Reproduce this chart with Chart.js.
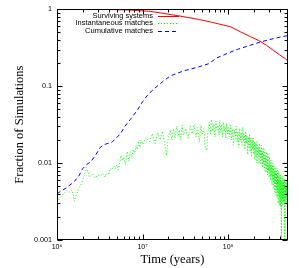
<!DOCTYPE html>
<html><head><meta charset="utf-8">
<script src="https://cdn.jsdelivr.net/npm/chart.js@4"></script>
<style>html,body{margin:0;padding:0;background:#fff;}#wrap{width:299px;height:268px;}</style>
</head><body><div id="wrap"><canvas id="c" width="299" height="268"></canvas></div>
<script>
// ---- tick values and labels ----
const xMajorTicks = [1e6, 1e7, 1e8];
const xTickLabels = ['10\u2076', '10\u2077', '10\u2078'];
const xMinorTicks = [2e6,3e6,4e6,5e6,6e6,7e6,8e6,9e6,2e7,3e7,4e7,5e7,6e7,7e7,8e7,9e7,2e8,3e8,4e8];
const yMajorTicks = [0.001, 0.01, 0.1, 1];
const yTickLabels = ['0.001', '0.01', '0.1', '1'];
const yMinorTicks = [0.002,0.003,0.004,0.005,0.006,0.007,0.008,0.009,0.02,0.03,0.04,0.05,0.06,0.07,0.08,0.09,0.2,0.3,0.4,0.5,0.6,0.7,0.8,0.9];
const seriesNames = ['Surviving systems', 'Instantaneous matches', 'Cumulative matches'];
const xTitle = 'Time (years)';
const yTitle = 'Fraction of Simulations';

// ---- series (time in Myr, fraction) ----
const survTime = [1, 2, 4, 7, 12.3, 16, 27.6, 45, 62, 80, 106, 139, 183, 227, 280, 341, 400, 460, 500, 500];
const survFrac = [1.0, 0.999, 0.995, 0.98, 0.94, 0.90, 0.815, 0.74, 0.685, 0.64, 0.595, 0.51, 0.44, 0.393, 0.34, 0.29, 0.255, 0.23, 0.212, 0.0005];

const cumTime = [1.0, 1.3, 1.6, 1.8, 2.0, 2.2, 2.5, 2.8, 3.2, 3.6, 4.4, 5.5, 6.2, 7.2, 8.7, 10, 11.7, 14, 17.6, 21, 30, 45, 59, 74, 100, 128, 180, 240, 350, 500];
const cumFrac = [0.0040, 0.0048, 0.0058, 0.0068, 0.0085, 0.0095, 0.0105, 0.0125, 0.016, 0.0175, 0.0187, 0.024, 0.030, 0.037, 0.049, 0.063, 0.079, 0.095, 0.117, 0.136, 0.158, 0.178, 0.196, 0.234, 0.27, 0.301, 0.34, 0.377, 0.42, 0.456];

const instTime = [
 1.0,1.1,1.2,1.3,1.4,1.5,1.6,1.7,1.8,1.9,2.0,
 2.2,2.4,2.6,2.8,3.0,3.2,3.4,3.6,3.8,4.0,4.2,4.4,4.6,4.8,5.0,5.2,5.4,5.6,5.8,6.0,6.3,6.6,6.9,7.2,7.5,7.8,8.1,8.4,8.7,9.0,9.3,9.6,10,
 11,12,13,14,15,16,17,18,19,20,21,22,23,24,25,26,27,28,29,30,
 32,34,36,38,40,42,44,46,48,50,52,54,56,58,60,62,64,66,68,70,72,74,76,78,80,82,84,86,88,90,92,94,96,98,100,
 103,106,109,112,115,118,121,124,127,130,133,136,139,142,145,148,151,154,157,160,163,166,169,172,175,178,181,184,187,190,193,196,199,
 202,205,208,211,214,217,220,223,226,229,232,235,238,241,244,247,250,253,256,259,262,265,268,271,274,277,280,283,286,289,292,295,298,
 301,304,307,310,313,316,319,322,325,328,331,334,337,340,343,346,349,352,355,358,361,364,367,370,373,376,379,382,385,388,391,394,397,
 400,403,406,409,412,415,418,421,424,427,430,433,436,439,442,445,448,451,454,457,460,463,466,469,472,475,478,481,484,487,490,493,496,499
];
const instFrac = [
 0.0031,0.0036,0.0040,0.0044,0.0042,0.0045,0.0032,0.0040,0.0046,0.0052,0.0060,
 0.0088,0.0066,0.0072,0.0064,0.0070,0.0068,0.0074,0.0066,0.0074,0.0070,0.0085,0.0082,0.0092,0.0085,0.0095,0.0082,0.0100,0.0125,0.0108,0.0120,0.0096,0.0142,0.0106,0.0140,0.0120,0.0150,0.0135,0.0170,0.0150,0.0192,0.0160,0.0200,0.0175,0.0215,
 0.019,0.024,0.018,0.025,0.020,0.026,0.019,0.0125,0.022,0.027,0.020,0.028,0.021,0.030,0.022,0.027,0.020,0.031,0.023,0.028,
 0.021,0.030,0.024,0.032,0.022,0.029,0.019,0.031,0.024,0.028,0.016,0.0145,0.026,0.034,0.024,0.037,0.026,0.033,0.022,0.035,0.027,0.031,0.023,0.036,0.025,0.032,0.022,0.034,0.026,0.030,0.021,0.033,0.024,0.029,0.022,
 0.031,0.020,0.028,0.017,0.027,0.021,0.030,0.019,0.026,0.016,0.028,0.020,0.025,0.017,0.029,0.019,0.024,0.015,0.026,0.018,0.023,0.013,0.022,0.016,0.024,0.014,0.021,0.012,0.020,0.015,0.022,0.013,0.019,
 0.011,0.018,0.012,0.019,0.010,0.017,0.013,0.016,0.0098,0.018,0.012,0.015,0.0095,0.017,0.011,0.014,0.0088,0.016,0.010,0.013,0.0080,0.015,0.0092,0.012,0.0075,0.014,0.0085,0.011,0.0070,0.013,0.0080,0.010,0.0065,
 0.012,0.0075,0.0095,0.0060,0.011,0.0068,0.0090,0.0052,0.010,0.0060,0.0085,0.0048,0.0095,0.0055,0.0080,0.0042,0.0090,0.0050,0.0075,0.0038,0.0085,0.0045,0.0070,0.0035,0.0080,0.0042,0.0065,0.0030,0.0078,0.0038,0.0060,0.0028,0.0072,
 0.0035,0.0060,0.0027,0.0070,0.0032,0.0005,0.0058,0.0030,0.0068,0.0034,0.0055,0.0028,0.0065,0.0032,0.0058,0.0030,0.0062,0.0035,0.0005,0.0052,0.0031,0.0060,0.0034,0.0050,0.0030,0.0058,0.0036,0.0048,0.0031,0.0055,0.0034,0.0045,0.0030,0.0040
];

const pts = (t, f) => t.map((v, i) => ({x: v * 1e6, y: f[i]}));

const decorPlugin = {
  id: 'decor',
  beforeDraw(chart) {
    const c = chart.ctx;
    c.save(); c.fillStyle = '#fff'; c.fillRect(0, 0, chart.width, chart.height); c.restore();
  },
  afterDraw(chart) {
    const c = chart.ctx, a = chart.chartArea, xs = chart.scales.x, ys = chart.scales.y;
    const L = Math.round(a.left) + 0.5, R = Math.round(a.right) - 0.5, T = Math.round(a.top) + 0.5, B = Math.round(a.bottom) - 0.5;
    c.save();
    c.strokeStyle = '#000'; c.lineWidth = 1; c.setLineDash([]);
    c.strokeRect(L, T, R - L, B - T);
    c.beginPath();
    const tickX = (v, len) => { const p = Math.round(xs.getPixelForValue(v)) + 0.5; c.moveTo(p, B); c.lineTo(p, B - len); c.moveTo(p, T); c.lineTo(p, T + len); };
    const tickY = (v, len) => { const p = Math.round(ys.getPixelForValue(v)) + 0.5; c.moveTo(L, p); c.lineTo(L + len, p); c.moveTo(R, p); c.lineTo(R - len, p); };
    xMajorTicks.forEach(v => tickX(v, 5)); xMinorTicks.forEach(v => tickX(v, 3));
    yMajorTicks.forEach(v => tickY(v, 5)); yMinorTicks.forEach(v => tickY(v, 3));
    c.stroke();
    // legend
    c.font = '7.5px "Liberation Sans", Arial, sans-serif';
    c.fillStyle = '#000'; c.textAlign = 'right'; c.textBaseline = 'middle';
    const rows = [15.5, 23.3, 31];
    const styles = [{col: '#ff0000', dash: []}, {col: '#00ff00', dash: [1, 2]}, {col: '#0000ff', dash: [4, 3]}];
    rows.forEach((y, i) => {
      c.fillText(seriesNames[i], 153, y);
      c.beginPath(); c.strokeStyle = styles[i].col; c.setLineDash(styles[i].dash);
      c.moveTo(158, Math.round(y) + 0.5); c.lineTo(179, Math.round(y) + 0.5); c.stroke();
    });
    c.setLineDash([]);
    // axis titles
    c.fillStyle = '#000';
    c.font = '12.5px "Liberation Serif", "Times New Roman", serif';
    c.textAlign = 'center'; c.textBaseline = 'middle';
    c.fillText(xTitle, (a.left + a.right) / 2, 260);
    c.translate(20, (a.top + a.bottom) / 2); c.rotate(-Math.PI / 2);
    c.fillText(yTitle, 0, 0);
    c.restore();
  }
};

new Chart(document.getElementById('c'), {
  type: 'line',
  data: { datasets: [
    {label: seriesNames[0], data: pts(survTime, survFrac), borderColor: '#ff0000', borderWidth: 1, pointRadius: 0, fill: false, tension: 0, order: 3},
    {label: seriesNames[1], data: pts(instTime, instFrac), borderColor: '#00ff00', borderWidth: 1, borderDash: [1, 2], pointRadius: 0, fill: false, tension: 0, order: 2},
    {label: seriesNames[2], data: pts(cumTime, cumFrac), borderColor: '#0000ff', borderWidth: 1, borderDash: [4, 3], pointRadius: 0, fill: false, tension: 0, order: 1}
  ]},
  options: {
    responsive: false, animation: false, devicePixelRatio: 1,
    layout: {padding: {left: 0, right: 11, top: 8, bottom: 0}},
    plugins: {legend: {display: false}, tooltip: {enabled: false}},
    scales: {
      x: {type: 'logarithmic', min: 1e6, max: 5e8, position: 'bottom',
        grid: {display: false, drawTicks: false}, border: {display: false},
        ticks: {autoSkip: false, maxRotation: 0, minRotation: 0, padding: 3, color: '#000',
          font: {family: '"Liberation Sans", Arial, sans-serif', size: 7}, callback: (v, i) => xTickLabels[i]},
        afterBuildTicks: s => { s.ticks = xMajorTicks.map(v => ({value: v})); },
        afterFit: s => { s.height = 28; }},
      y: {type: 'logarithmic', min: 0.001, max: 1, position: 'left',
        grid: {display: false, drawTicks: false}, border: {display: false},
        ticks: {autoSkip: false, padding: 5, color: '#000',
          font: {family: '"Liberation Sans", Arial, sans-serif', size: 7.2}, callback: (v, i) => yTickLabels[i]},
        afterBuildTicks: s => { s.ticks = yMajorTicks.map(v => ({value: v})); },
        afterFit: s => { s.width = 57; }}
    }
  },
  plugins: [decorPlugin]
});
</script></body></html>
